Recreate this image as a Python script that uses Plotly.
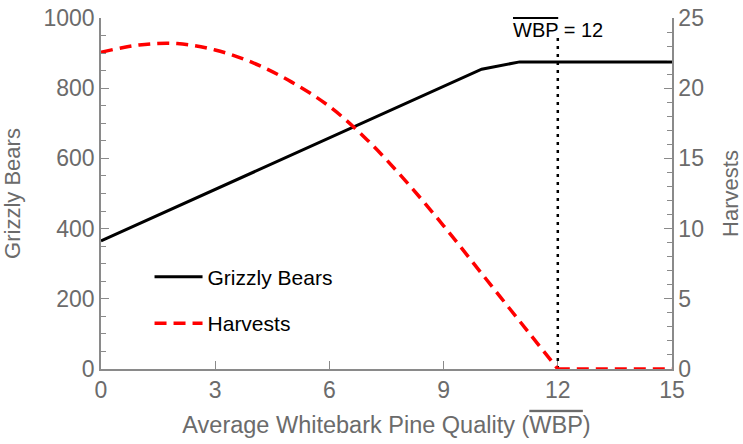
import plotly.graph_objects as go

# ---- data ----
wbp = [0, 1, 2, 3, 4, 5, 6, 7, 8, 9, 10, 11, 12, 13, 14, 15]
grizzly_bears = [365, 414, 463, 512, 561, 610, 658, 707, 756, 805, 854, 875, 875, 875, 875, 875]
harvests = [22.56, 23.08, 23.18, 22.72, 21.8, 20.45, 18.7, 16.3, 13.4, 10.2, 6.8, 3.4, 0, 0, 0, 0]
wbp_bar = 12
vline_top = 946          # top of dotted reference line (left-axis units)
x_ticks = [0, 3, 6, 9, 12, 15]
y_ticks = [0, 200, 400, 600, 800, 1000]
y2_ticks = [0, 5, 10, 15, 20, 25]

FONT = "Liberation Sans, Arial, sans-serif"
GRAY_TXT = "#6b6b6b"
GRAY_LINE = "#8a8a8a"
OVER = '<span style="text-decoration:overline">WBP</span>'

idx = wbp.index(wbp_bar)

fig = go.Figure()
fig.add_trace(go.Scatter(
    x=wbp, y=grizzly_bears, name="Grizzly Bears", mode="lines",
    line=dict(color="black", width=3), legendgroup="g", cliponaxis=False))
fig.add_trace(go.Scatter(
    x=wbp[:idx + 1], y=harvests[:idx + 1], name="Harvests", mode="lines",
    line=dict(color="#ff0000", width=3.5, dash="12px,7px", shape="spline", smoothing=1),
    yaxis="y2", legendgroup="h", cliponaxis=False))
fig.add_trace(go.Scatter(
    x=wbp[idx:], y=harvests[idx:], name="Harvests", mode="lines",
    line=dict(color="#ff0000", width=3.5, dash="12px,7px"),
    yaxis="y2", legendgroup="h", showlegend=False, cliponaxis=False))
fig.add_trace(go.Scatter(
    x=[wbp_bar, wbp_bar], y=[0, vline_top], mode="lines", showlegend=False,
    line=dict(color="black", width=2.5, dash="3px,5px"), hoverinfo="skip"))

fig.add_annotation(x=wbp_bar, y=vline_top, xref="x", yref="y",
                   text=OVER + " = 12", showarrow=False,
                   xanchor="center", yanchor="bottom", yshift=-6,
                   font=dict(family=FONT, size=20, color="black"))

axis_common = dict(showline=True, linecolor=GRAY_LINE, linewidth=1.5,
                   ticks="inside", tickcolor=GRAY_LINE, tickwidth=1.2,
                   showgrid=False, zeroline=False, automargin=False,
                   ticklabeloverflow="allow",
                   tickfont=dict(family=FONT, size=23, color=GRAY_TXT))

fig.update_layout(
    width=743, height=444,
    margin=dict(l=101, r=71, t=18, b=75),
    paper_bgcolor="white", plot_bgcolor="white",
    showlegend=True,
    legend=dict(x=0.085, y=0.32, xanchor="left", yanchor="top",
                font=dict(family=FONT, size=21, color="black"),
                bgcolor="rgba(0,0,0,0)", tracegroupgap=16, itemwidth=48),
    xaxis=dict(range=[0, 15], tickvals=x_ticks, ticklen=8,
               title=dict(text="Average Whitebark Pine Quality (" + OVER + ")",
                          font=dict(family=FONT, size=23.5, color=GRAY_TXT), standoff=14),
               layer="below traces", **axis_common),
    yaxis=dict(range=[0, 1000], tickvals=y_ticks, ticklen=8,
               minor=dict(dtick=50, ticks="inside", ticklen=5, tickcolor=GRAY_LINE),
               title=dict(text="Grizzly Bears", font=dict(family=FONT, size=22, color=GRAY_TXT), standoff=28),
               **axis_common),
    yaxis2=dict(range=[0, 25], tickvals=y2_ticks, ticklen=8, overlaying="y", side="right",
                minor=dict(dtick=1, ticks="inside", ticklen=5, tickcolor=GRAY_LINE),
                title=dict(text="Harvests", font=dict(family=FONT, size=22, color=GRAY_TXT), standoff=27),
                **axis_common),
)

# remove the browser's default 8px page margin so the 743x444 figure fills the window exactly
fig.write_html("out.html",
               config={"displayModeBar": False},
               post_script="document.body.style.margin='0';document.body.style.overflow='hidden';")
